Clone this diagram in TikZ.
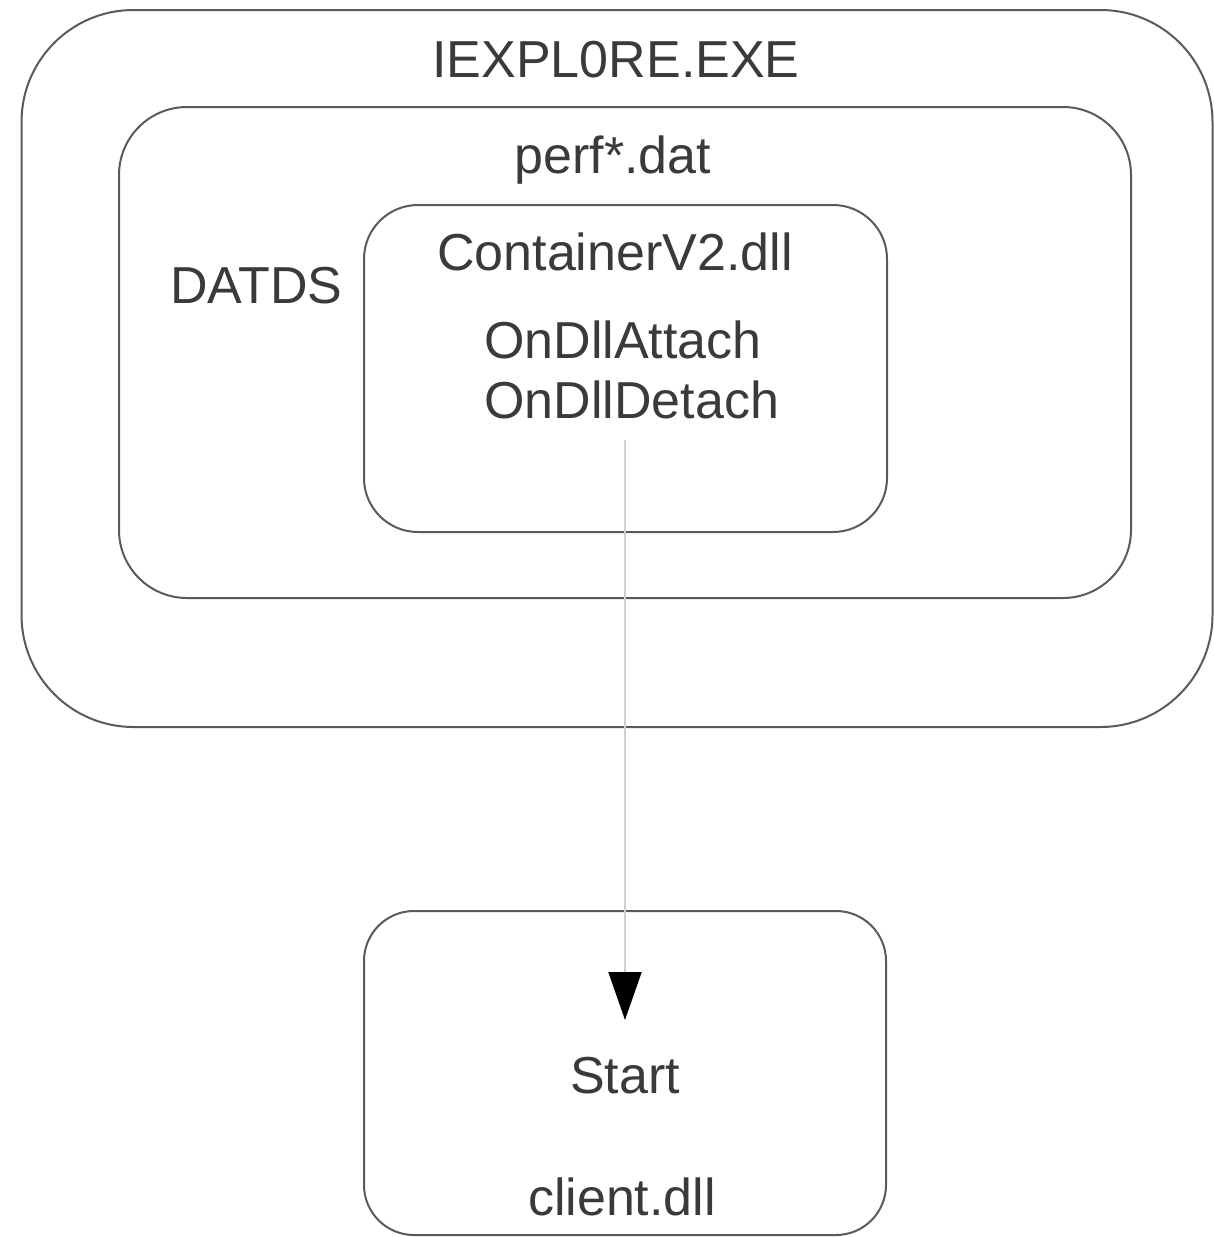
\documentclass[tikz,border=0pt]{standalone}
\usepackage{fontspec}
\setmainfont{Liberation Sans}
\usetikzlibrary{arrows.meta}
\definecolor{boxline}{HTML}{5A5A5A}
\definecolor{txt}{HTML}{3A3A3A}
\definecolor{conn}{HTML}{CFCFCF}
\begin{document}
\begin{tikzpicture}[x=1pt,y=-1pt,
  box/.style={draw=boxline,line width=2pt,rectangle,inner sep=0pt},
  lbl/.style={text=txt,font=\fontsize{52}{60}\selectfont,inner sep=0pt,anchor=base}]
\useasboundingbox (0,0) rectangle (1214,1237);
% containers
\node[box,rounded corners=112pt,minimum width=1191pt,minimum height=717pt] (outer) at (617,368.5) {};
\node[box,rounded corners=68pt,minimum width=1012pt,minimum height=491pt] (perf) at (625,352.5) {};
\node[box,rounded corners=54pt,minimum width=523pt,minimum height=327pt] (cont) at (625.5,368.5) {};
\node[box,rounded corners=50pt,minimum width=522pt,minimum height=324pt] (client) at (625,1073) {};
% labels
\node[lbl] (tExe) at (616,77) {IEXPL0RE.EXE};
\node[lbl] (tPerf) at (613,173) {perf*.dat};
\node[lbl,anchor=base west] (tDatds) at (170,303) {DATDS};
\node[lbl] (tCont) at (615,270) {ContainerV2.dll};
\node[lbl,anchor=base west] (tAttach) at (484,358) {OnDllAttach};
\node[lbl,anchor=base west] (tDetach) at (484,418) {OnDllDetach};
\node[lbl] (tStart) at (625,1093) {Start};
\node[lbl] (tClient) at (622,1215) {client.dll};
% connector
\coordinate (from) at (625,440);
\coordinate (to) at (625,1020);
\draw[conn,line width=2pt,-{Triangle[width=33pt,length=48pt,color=black,fill=black]}] (from) -- (to);
\end{tikzpicture}
\end{document}
